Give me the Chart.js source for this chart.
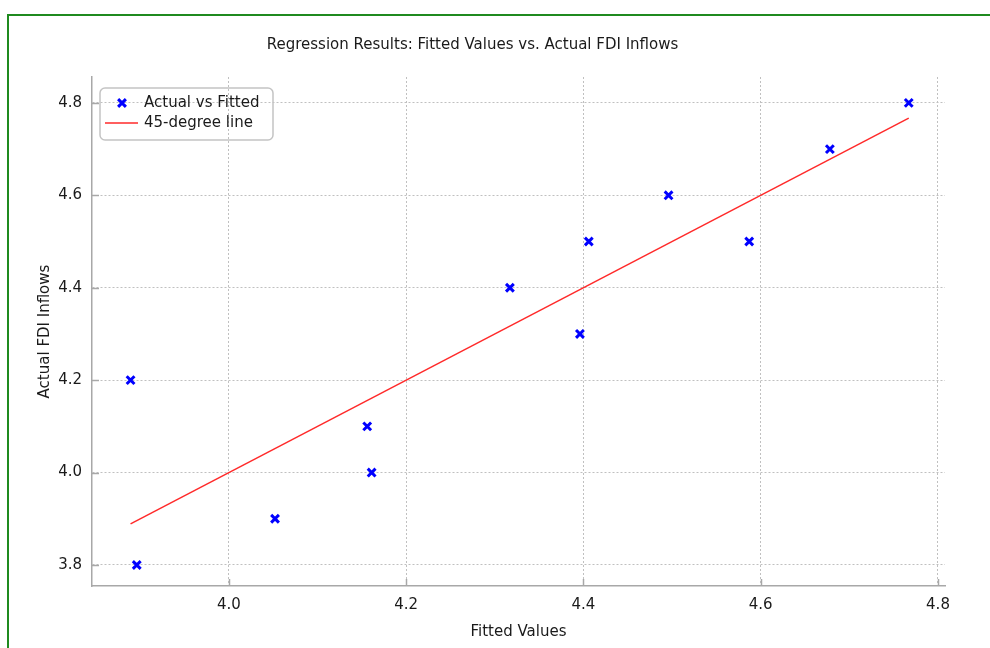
<!DOCTYPE html>
<html>
<head>
<meta charset="utf-8">
<script src="https://cdn.jsdelivr.net/npm/chart.js@4"></script>
<style>
  html, body { margin: 0; padding: 0; background: #ffffff; overflow: hidden; }
  #frame { position: absolute; left: 7px; top: 14px; width: 1100px; height: 800px; border: 2px solid #1f8a1f; box-sizing: border-box; }
  #c { position: absolute; left: 0; top: 0; }
</style>
</head>
<body>
<div id="frame"></div>
<canvas id="c" width="990" height="648"></canvas>
<script>
// ---- data ----
const fittedValues = [3.889, 3.896, 4.052, 4.156, 4.161, 4.317, 4.396, 4.406, 4.496, 4.587, 4.678, 4.767];
const actualValues = [4.2, 3.8, 3.9, 4.1, 4.0, 4.4, 4.3, 4.5, 4.6, 4.5, 4.7, 4.8];
const lineEnds = [3.889, 4.767];
const xTicks = [4.0, 4.2, 4.4, 4.6, 4.8];
const yTicks = [3.8, 4.0, 4.2, 4.4, 4.6, 4.8];
const titleText = 'Regression Results: Fitted Values vs. Actual FDI Inflows';
const xTitle = 'Fitted Values';
const yTitle = 'Actual FDI Inflows';
const seriesLabels = ['Actual vs Fitted', '45-degree line'];

const FONT = 'DejaVu Sans';
const FS = 15;
const TXT = '#1a1a1a';
const BLUE = '#0000ff';
const RED = '#ff2a2a';
const GRID = '#c0c0c0';
const AXIS = '#a8a8a8';

const inwardTicks = {
  id: 'inwardTicks',
  afterDatasetsDraw(chart) {
    const ctx = chart.ctx, xs = chart.scales.x, ys = chart.scales.y;
    const a = chart.chartArea;
    ctx.save();
    ctx.strokeStyle = AXIS;
    ctx.lineWidth = 1.5;
    xs.ticks.forEach(t => {
      const px = Math.round(xs.getPixelForValue(t.value)) + 0.5;
      ctx.beginPath(); ctx.moveTo(px, a.bottom); ctx.lineTo(px, a.bottom - 7); ctx.stroke();
    });
    ys.ticks.forEach(t => {
      const py = Math.round(ys.getPixelForValue(t.value)) + 0.5;
      ctx.beginPath(); ctx.moveTo(a.left, py); ctx.lineTo(a.left + 7, py); ctx.stroke();
    });
    ctx.restore();
  }
};

const boxLegend = {
  id: 'boxLegend',
  afterDraw(chart) {
    const ctx = chart.ctx, a = chart.chartArea;
    const x = a.left + 8, y = a.top + 11, w = 173, h = 52, r = 5;
    ctx.save();
    ctx.beginPath();
    ctx.moveTo(x + r, y);
    ctx.arcTo(x + w, y, x + w, y + h, r);
    ctx.arcTo(x + w, y + h, x, y + h, r);
    ctx.arcTo(x, y + h, x, y, r);
    ctx.arcTo(x, y, x + w, y, r);
    ctx.closePath();
    ctx.strokeStyle = '#c4c4c4';
    ctx.lineWidth = 1.5;
    ctx.stroke();
    const ds = chart.data.datasets;
    const cx = x + 22, cy1 = y + 15, cy2 = y + 35;
    ctx.strokeStyle = ds[0].borderColor;
    ctx.lineWidth = 3;
    const d = 3.9;
    ctx.beginPath();
    ctx.moveTo(cx - d, cy1 - d); ctx.lineTo(cx + d, cy1 + d);
    ctx.moveTo(cx + d, cy1 - d); ctx.lineTo(cx - d, cy1 + d);
    ctx.stroke();
    ctx.strokeStyle = ds[1].borderColor;
    ctx.lineWidth = 1.5;
    ctx.beginPath(); ctx.moveTo(x + 5, cy2); ctx.lineTo(x + 38, cy2); ctx.stroke();
    ctx.fillStyle = TXT;
    ctx.font = FS + 'px "' + FONT + '"';
    ctx.textBaseline = 'middle';
    ctx.textAlign = 'left';
    ctx.fillText(ds[0].label, x + 44, cy1);
    ctx.fillText(ds[1].label, x + 44, cy2);
    ctx.restore();
  }
};

new Chart(document.getElementById('c'), {
  type: 'scatter',
  data: {
    datasets: [
      {
        label: seriesLabels[0],
        data: fittedValues.map((v, i) => ({ x: v, y: actualValues[i] })),
        pointStyle: 'crossRot',
        pointRadius: 5.5,
        pointBorderWidth: 3,
        borderColor: BLUE,
        backgroundColor: BLUE,
        order: 0
      },
      {
        label: seriesLabels[1],
        data: lineEnds.map(v => ({ x: v, y: v })),
        showLine: true,
        borderColor: RED,
        backgroundColor: RED,
        borderWidth: 1.5,
        pointRadius: 0,
        order: 1
      }
    ]
  },
  options: {
    responsive: false,
    devicePixelRatio: 1,
    animation: false,
    layout: { padding: { left: 0, right: 45, top: 0, bottom: 0 } },
    plugins: {
      legend: { display: false },
      tooltip: { enabled: false },
      title: {
        display: true,
        text: titleText,
        color: TXT,
        font: { family: FONT, size: FS, weight: 'normal', lineHeight: 1.2 },
        padding: { top: 36, bottom: 23 }
      }
    },
    scales: {
      x: {
        type: 'linear',
        min: 3.8455,
        max: 4.8079,
        afterBuildTicks: s => { s.ticks = xTicks.map(v => ({ value: v })); },
        afterFit: s => { s.height = 62; },
        grid: { color: GRID, lineWidth: 1, drawTicks: false },
        border: { display: true, color: AXIS, width: 1.5, dash: [2, 2] },
        ticks: { color: TXT, padding: 10, font: { family: FONT, size: FS }, callback: v => v.toFixed(1) },
        title: { display: true, text: xTitle, color: TXT, font: { family: FONT, size: FS }, padding: { top: 0, bottom: 7 } }
      },
      y: {
        type: 'linear',
        min: 3.7545,
        max: 4.856,
        afterBuildTicks: s => { s.ticks = yTicks.map(v => ({ value: v })); },
        afterFit: s => { s.width = 92; },
        grid: { color: GRID, lineWidth: 1, drawTicks: false },
        border: { display: true, color: AXIS, width: 1.5, dash: [2, 2] },
        ticks: { color: TXT, padding: 10, font: { family: FONT, size: FS }, callback: v => v.toFixed(1) },
        title: { display: true, text: yTitle, color: TXT, font: { family: FONT, size: FS }, padding: { top: 36, bottom: 0 } }
      }
    }
  },
  plugins: [inwardTicks, boxLegend]
});
</script>
</body>
</html>
